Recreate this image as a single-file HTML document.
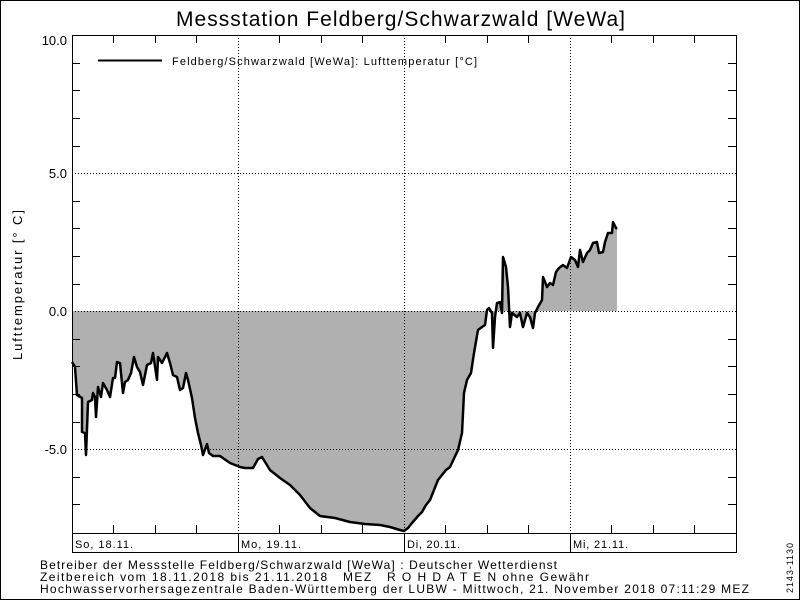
<!DOCTYPE html>
<html><head><meta charset="utf-8"><style>
html,body{margin:0;padding:0;background:#fff}
svg{display:block}
text{font-family:"Liberation Sans",sans-serif;fill:#000}
</style></head><body>
<svg width="800" height="600" viewBox="0 0 800 600" xmlns="http://www.w3.org/2000/svg">
<rect x="0.5" y="0.5" width="799" height="599" fill="#fff" stroke="#000"/>
<text x="176" y="26" font-size="21" textLength="449" lengthAdjust="spacing">Messstation Feldberg/Schwarzwald [WeWa]</text>
<!-- fill -->
<polygon fill="#b0b0b0" points="72,311 72,362 75,367 77,395 82,398 82,432 85,433 86,455 88,402 92,400 93,393 95,397 96,417 98,387 101,397 103,383 107,390 110,397 113,378 115,378 117,362 120,363 123,393 125,382 128,380 131,373 134,357 137,367 140,372 143,385 145,375 147,365 151,363 153,353 157,380 158,357 162,363 167,353 170,363 173,375 177,377 180,390 183,388 186,373 188,380 192,398 195,418 198,433 201,445 203,455 207,444 209,453 213,456 220,456 230,463 240,467 245,468 250,468 253,468 258,459 262,457 270,470 280,478 290,485 300,495 310,508 320,516 335,518 350,522 365,524 380,525 390,527 400,530 404,531 408,528 412,523 418,516 422,512 426,505 430,500 434,490 438,480 442,475 446,470 450,467 458,450 462,433 464,393 467,380 471,373 474,353 478,330 482,327 485,325 487,310 489,308 492,313 493,348 495,317 497,303 500,302 502,313 503,257 506,267 508,287 510,327 512,313 517,317 520,313 523,327 527,313 530,317 533,328 535,313 538,307 542,300 543,277 547,287 550,283 553,285 556,272 559,268 563,265 567,268 571,257 575,260 578,267 580,250 583,262 587,253 590,250 593,243 597,242 599,253 603,252 605,242 608,233 612,233 613,222 616,228 617,229 617,311"/>
<!-- grid -->
<g stroke="#000" stroke-width="1" stroke-dasharray="1,2">
<line x1="72" y1="173.5" x2="736" y2="173.5"/>
<line x1="72" y1="311.5" x2="736" y2="311.5"/>
<line x1="72" y1="449.5" x2="736" y2="449.5"/>
<line x1="238.5" y1="35" x2="238.5" y2="533"/>
<line x1="404.5" y1="35" x2="404.5" y2="533"/>
<line x1="570.5" y1="35" x2="570.5" y2="533"/>
</g>
<polyline fill="none" stroke="#000" stroke-width="2.5" stroke-linejoin="round" points="72,362 75,367 77,395 82,398 82,432 85,433 86,455 88,402 92,400 93,393 95,397 96,417 98,387 101,397 103,383 107,390 110,397 113,378 115,378 117,362 120,363 123,393 125,382 128,380 131,373 134,357 137,367 140,372 143,385 145,375 147,365 151,363 153,353 157,380 158,357 162,363 167,353 170,363 173,375 177,377 180,390 183,388 186,373 188,380 192,398 195,418 198,433 201,445 203,455 207,444 209,453 213,456 220,456 230,463 240,467 245,468 250,468 253,468 258,459 262,457 270,470 280,478 290,485 300,495 310,508 320,516 335,518 350,522 365,524 380,525 390,527 400,530 404,531 408,528 412,523 418,516 422,512 426,505 430,500 434,490 438,480 442,475 446,470 450,467 458,450 462,433 464,393 467,380 471,373 474,353 478,330 482,327 485,325 487,310 489,308 492,313 493,348 495,317 497,303 500,302 502,313 503,257 506,267 508,287 510,327 512,313 517,317 520,313 523,327 527,313 530,317 533,328 535,313 538,307 542,300 543,277 547,287 550,283 553,285 556,272 559,268 563,265 567,268 571,257 575,260 578,267 580,250 583,262 587,253 590,250 593,243 597,242 599,253 603,252 605,242 608,233 612,233 613,222 616,228 617,229"/>
<!-- frame -->
<rect x="72.5" y="35.5" width="664" height="498" fill="none" stroke="#000"/>
<rect x="72.5" y="533.5" width="664" height="19" fill="none" stroke="#000"/>
<g stroke="#000">
<line x1="238.5" y1="533" x2="238.5" y2="553"/>
<line x1="404.5" y1="533" x2="404.5" y2="553"/>
<line x1="570.5" y1="533" x2="570.5" y2="553"/>
</g>
<!-- ticks -->
<g stroke="#000">
<path d="M72 63.5h8M72 90.5h8M72 118.5h8M72 146.5h8M72 201.5h8M72 228.5h8M72 256.5h8M72 284.5h8M72 339.5h8M72 366.5h8M72 394.5h8M72 422.5h8M72 477.5h8M72 504.5h8"/>
<path d="M736 63.5h-8M736 90.5h-8M736 118.5h-8M736 146.5h-8M736 201.5h-8M736 228.5h-8M736 256.5h-8M736 284.5h-8M736 339.5h-8M736 366.5h-8M736 394.5h-8M736 422.5h-8M736 477.5h-8M736 504.5h-8"/>
<path d="M113.5 35v8M155.5 35v8M196.5 35v8M279.5 35v8M321.5 35v8M362.5 35v8M445.5 35v8M487.5 35v8M528.5 35v8M611.5 35v8M653.5 35v8M694.5 35v8"/>
<path d="M113.5 533v-8M155.5 533v-8M196.5 533v-8M279.5 533v-8M321.5 533v-8M362.5 533v-8M445.5 533v-8M487.5 533v-8M528.5 533v-8M611.5 533v-8M653.5 533v-8M694.5 533v-8"/>
</g>
<g font-size="13" text-anchor="end">
<text x="67" y="45">10.0</text>
<text x="67" y="178">5.0</text>
<text x="67" y="316">0.0</text>
<text x="67" y="454">-5.0</text>
</g>
<text x="0" y="0" font-size="13" transform="translate(22,360) rotate(-90)" textLength="150" lengthAdjust="spacing">Lufttemperatur [° C]</text>
<line x1="98" y1="60.5" x2="162" y2="60.5" stroke="#000" stroke-width="2"/>
<text x="172" y="65" font-size="11" textLength="305" lengthAdjust="spacing">Feldberg/Schwarzwald [WeWa]: Lufttemperatur  [°C]</text>
<g font-size="11">
<text x="75" y="548" textLength="58" lengthAdjust="spacing">So, 18.11.</text>
<text x="241" y="548" textLength="60" lengthAdjust="spacing">Mo, 19.11.</text>
<text x="407" y="548" textLength="53" lengthAdjust="spacing">Di, 20.11.</text>
<text x="573" y="548" textLength="55" lengthAdjust="spacing">Mi, 21.11.</text>
</g>
<g font-size="12">
<text x="40" y="569" fill="#222" textLength="517" lengthAdjust="spacing">Betreiber der Messstelle Feldberg/Schwarzwald [WeWa] : Deutscher Wetterdienst</text>
<text x="40" y="581" fill="#222" xml:space="preserve" textLength="549" lengthAdjust="spacing">Zeitbereich vom 18.11.2018 bis 21.11.2018   MEZ   R O H D A T E N ohne Gewähr</text>
<text x="40" y="593" fill="#222" textLength="709" lengthAdjust="spacing">Hochwasservorhersagezentrale Baden-Württemberg der LUBW - Mittwoch, 21. November 2018 07:11:29 MEZ</text>
</g>
<text x="0" y="0" font-size="9" transform="translate(793,593) rotate(-90)" textLength="50" lengthAdjust="spacing">2143-1130</text>
</svg>
</body></html>
